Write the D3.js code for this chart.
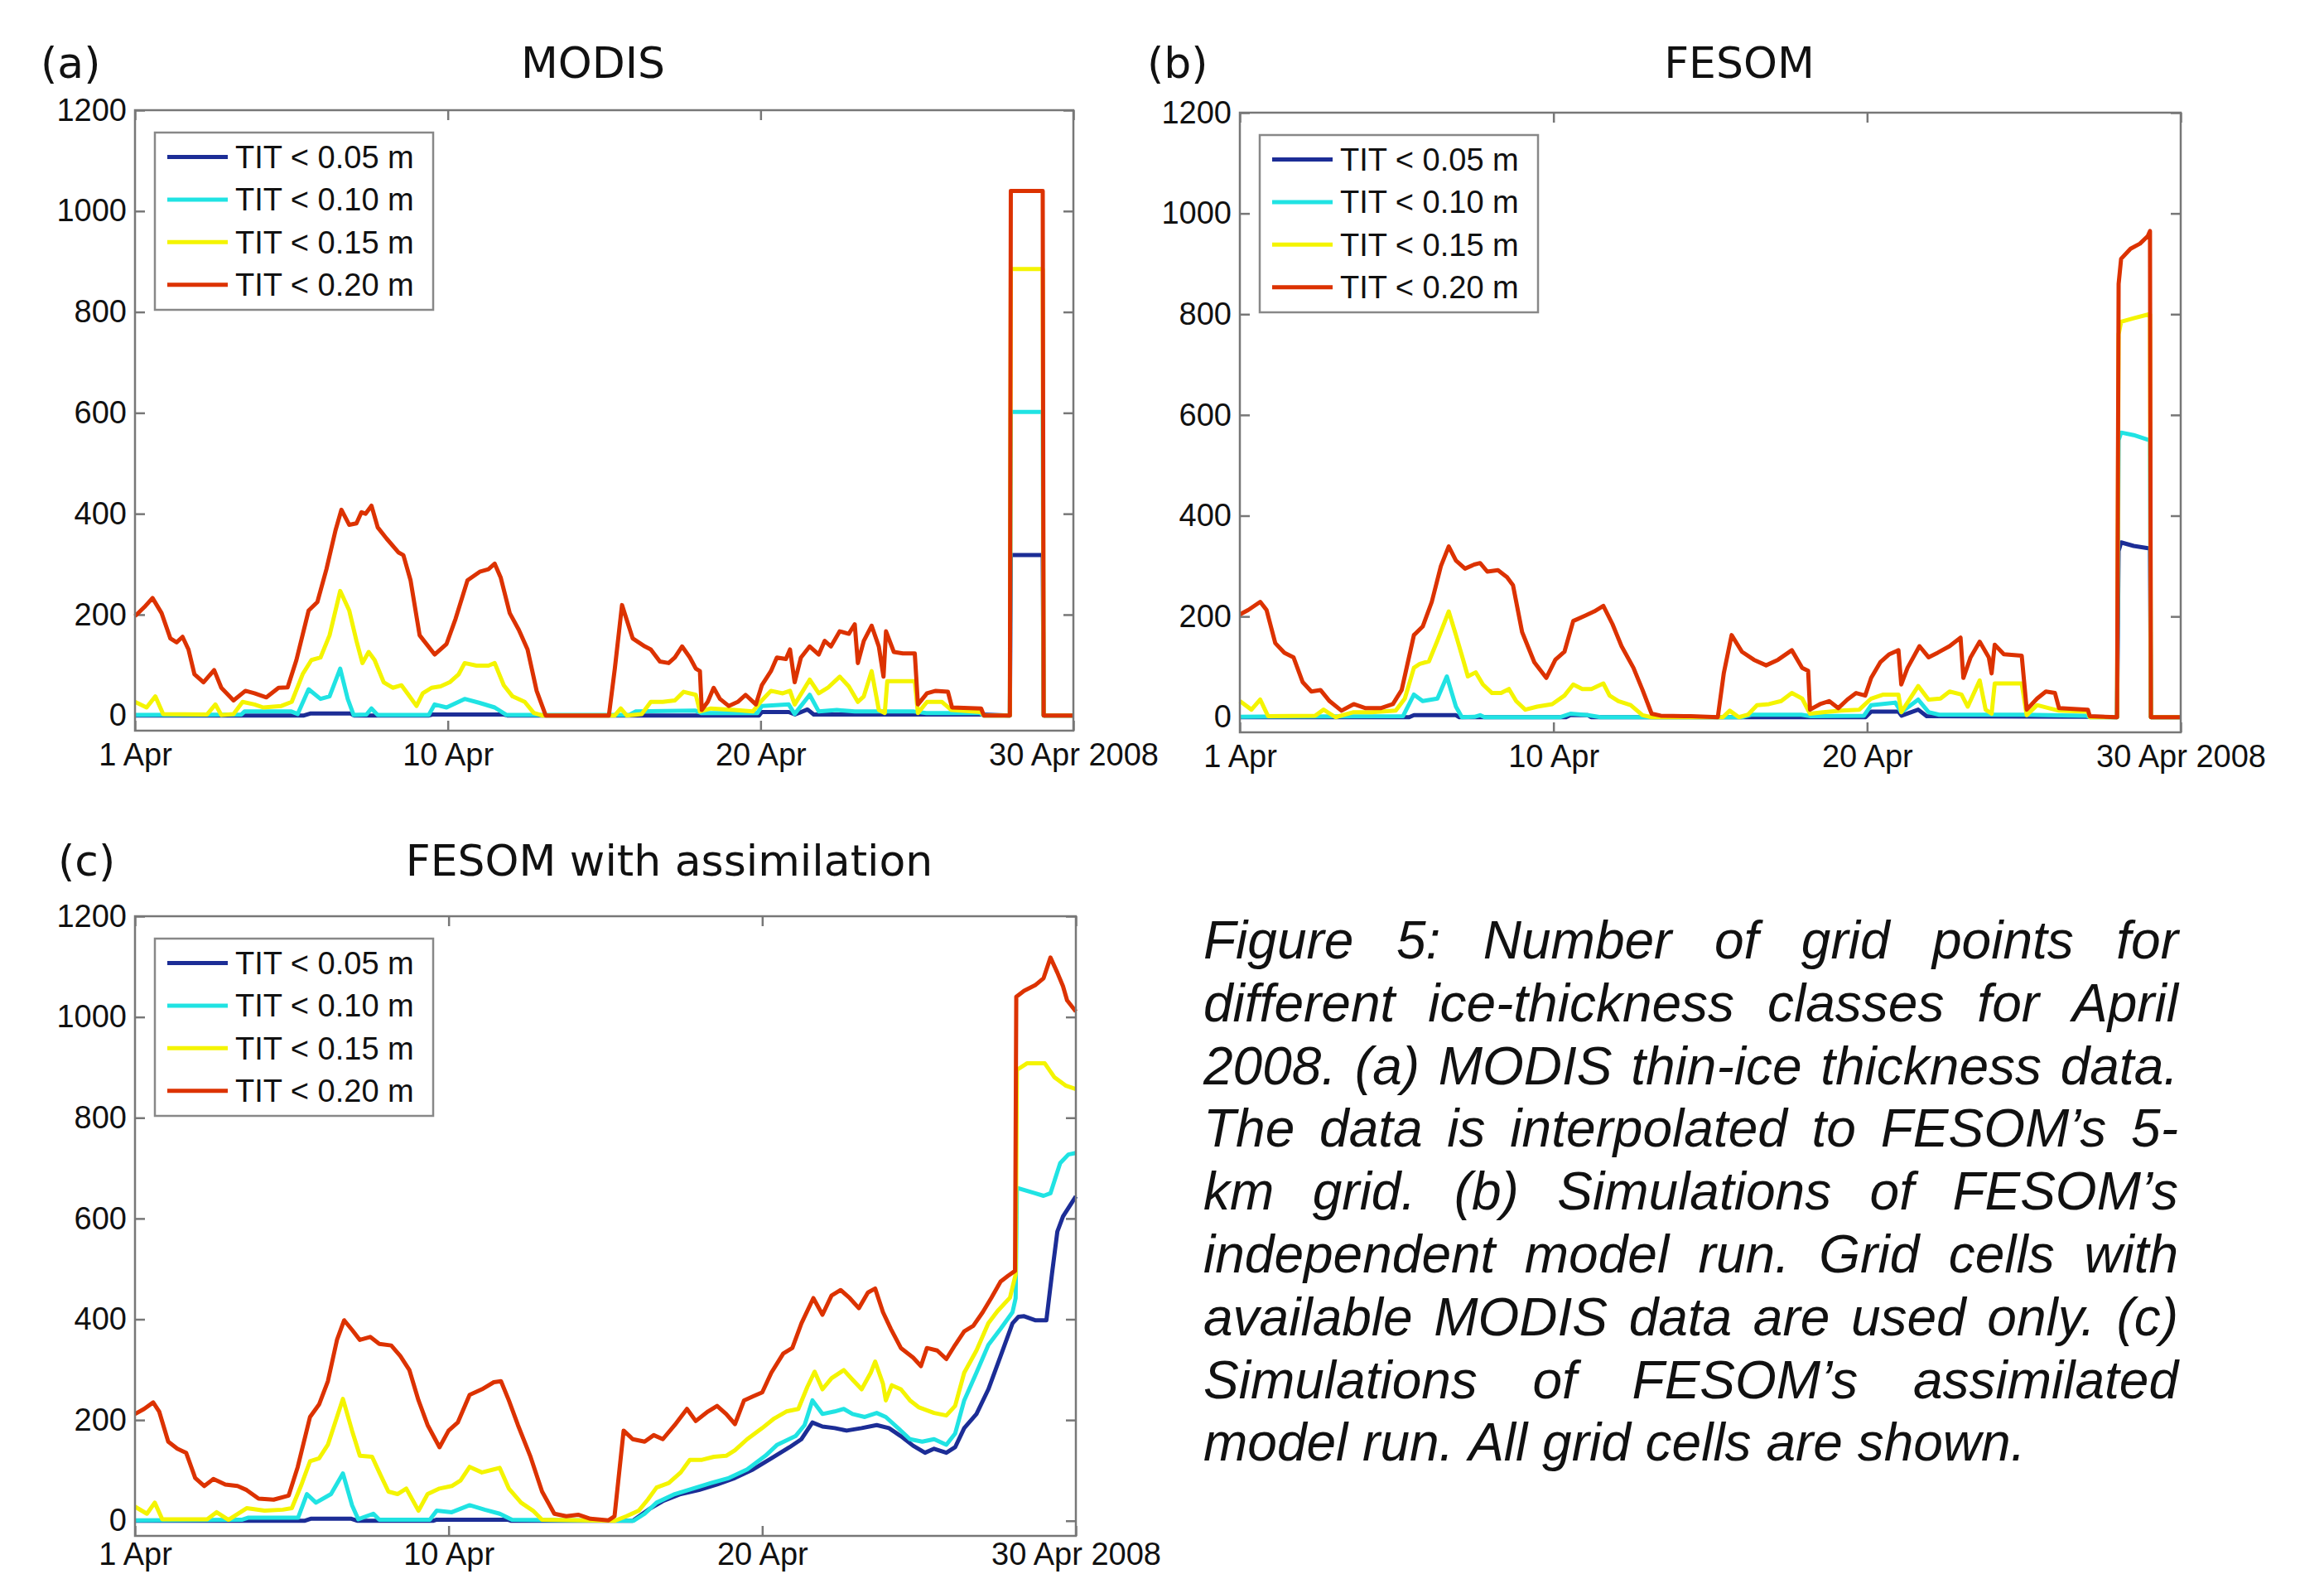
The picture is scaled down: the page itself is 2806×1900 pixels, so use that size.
<!DOCTYPE html>
<html>
<head>
<meta charset="utf-8">
<script src="https://cdn.jsdelivr.net/npm/d3@7"></script>
<style>
body { margin: 0; background: #fff; }
</style>
</head>
<body>
<div class="figure"></div>
<script>
var width = 2806
var height = 1900

var classes = ['TIT < 0.05 m', 'TIT < 0.10 m', 'TIT < 0.15 m', 'TIT < 0.20 m']
var colors = ['#1c2d96', '#20e3e3', '#f4f400', '#dc3200']
var yTicks = [0, 200, 400, 600, 800, 1000, 1200]
var xTicks = [0, 10, 20, 30]
var xTickLabels = ['1 Apr', '10 Apr', '20 Apr', '30 Apr 2008']

// (a) MODIS, [day, number of grid points]
var modis005 = [[0,0],[5.4,0],[5.6,4],[6.9,4],[7.0,0],[9.4,0],[9.5,2],[11.8,2],[11.9,0],[19.95,0],[20.04,7],[20.9,7],[21.1,2],[21.5,12],[21.7,2],[27.1,2],[27.97,0],[28.0,318],[29.02,318],[29.05,0],[30,0]]
var modis010 = [[0,1],[3.4,2],[3.5,8],[5.0,8],[5.2,3],[5.55,52],[5.93,33],[6.22,38],[6.56,93],[6.8,33],[6.99,1],[7.4,2],[7.56,14],[7.76,1],[9.39,1],[9.58,22],[9.96,16],[10.54,33],[11.02,25],[11.5,16],[11.88,1],[15.8,1],[16.0,8],[17.9,10],[18.1,5],[19.9,5],[20.04,19],[20.9,22],[21.09,3],[21.57,41],[21.86,8],[22.44,11],[23.01,8],[24.9,8],[25.3,5],[27.0,5],[27.14,0],[27.97,0],[28.0,602],[29.02,602],[29.05,0],[30,0]]
var modis015 = [[0,27],[0.37,16],[0.65,38],[0.9,3],[2.3,2],[2.57,22],[2.76,1],[3.15,3],[3.44,27],[3.82,22],[4.1,16],[4.68,19],[5.01,27],[5.36,82],[5.64,110],[5.93,115],[6.22,159],[6.56,247],[6.85,208],[7.08,148],[7.27,104],[7.47,126],[7.66,110],[7.95,66],[8.24,55],[8.52,60],[8.71,44],[9.0,19],[9.2,44],[9.48,55],[9.77,58],[10.06,66],[10.35,82],[10.54,104],[10.92,99],[11.3,99],[11.5,104],[11.79,60],[12.07,38],[12.46,27],[12.75,5],[13.03,0],[15.34,0],[15.53,14],[15.72,0],[16.2,3],[16.49,27],[16.87,27],[17.26,30],[17.54,47],[17.93,41],[18.06,8],[18.41,14],[19.17,11],[19.75,8],[20.04,30],[20.33,49],[20.71,44],[20.94,49],[21.09,22],[21.57,71],[21.86,44],[22.15,55],[22.53,77],[22.82,58],[23.11,27],[23.3,38],[23.55,88],[23.78,11],[23.97,5],[24.05,68],[24.93,68],[25.03,5],[25.32,27],[25.8,27],[26.1,11],[27.05,7],[27.14,0],[27.97,0],[28.0,885],[29.02,885],[29.05,0],[30,0]]
var modis020 = [[0,197],[0.3,215],[0.56,233],[0.85,203],[1.13,153],[1.33,145],[1.52,156],[1.71,131],[1.9,82],[2.19,66],[2.53,90],[2.76,55],[3.15,30],[3.53,49],[3.82,44],[4.2,36],[4.59,55],[4.88,56],[5.16,110],[5.55,208],[5.83,225],[6.12,290],[6.41,367],[6.6,408],[6.85,378],[7.08,381],[7.24,403],[7.37,400],[7.56,416],[7.76,373],[8.04,351],[8.43,323],[8.58,318],[8.81,268],[9.1,159],[9.58,121],[9.96,142],[10.25,192],[10.63,268],[11.02,285],[11.3,290],[11.5,301],[11.69,274],[11.98,203],[12.27,170],[12.55,131],[12.84,49],[13.13,0],[15.15,0],[15.34,93],[15.57,219],[15.91,153],[16.3,137],[16.49,131],[16.78,107],[17.06,104],[17.26,115],[17.49,137],[17.74,115],[17.93,93],[18.06,88],[18.12,11],[18.31,27],[18.5,55],[18.7,33],[18.98,19],[19.27,27],[19.52,41],[19.85,22],[20.04,60],[20.33,88],[20.52,115],[20.81,112],[20.94,131],[21.09,66],[21.29,115],[21.57,137],[21.86,121],[22.05,148],[22.25,137],[22.53,167],[22.82,162],[23.01,181],[23.11,104],[23.3,148],[23.55,178],[23.78,137],[23.93,77],[24.01,167],[24.26,126],[24.55,123],[24.93,123],[25.03,22],[25.32,44],[25.6,49],[25.99,47],[26.12,16],[27.05,14],[27.14,0],[27.97,0],[28.0,1040],[29.02,1040],[29.05,0],[30,0]]

// (b) FESOM
var fesom005 = [[0,0],[5.4,0],[5.55,4],[6.89,4],[7.0,0],[10.4,0],[10.54,4],[11.1,4],[11.2,0],[19.95,0],[20.13,11],[21.0,11],[21.1,3],[21.63,15],[21.9,2],[27.1,1],[27.97,0],[28.02,330],[28.1,347],[28.5,340],[29.0,335],[29.02,335],[29.05,0],[30,0]]
var fesom010 = [[0,1],[5.2,2],[5.55,45],[5.83,32],[6.3,37],[6.6,81],[6.89,21],[7.08,0],[7.5,1],[7.66,4],[7.8,0],[10.2,0],[10.54,7],[11.1,4],[11.5,0],[16.0,0],[16.3,5],[17.9,5],[18.2,2],[19.9,3],[20.13,24],[20.9,29],[21.09,10],[21.63,35],[21.96,10],[22.3,5],[25.0,5],[27.0,3],[27.1,0],[27.97,0],[28.02,550],[28.1,565],[28.5,560],[29.0,550],[29.02,550],[29.05,0],[30,0]]
var fesom015 = [[0,32],[0.37,15],[0.65,35],[0.9,2],[2.4,3],[2.67,15],[3.05,0],[3.63,10],[4.2,10],[4.97,13],[5.26,37],[5.55,98],[5.74,106],[6.03,111],[6.3,152],[6.66,210],[6.89,163],[7.12,114],[7.27,81],[7.52,89],[7.75,65],[8.04,48],[8.33,48],[8.58,56],[8.81,32],[9.1,15],[9.48,21],[9.96,26],[10.35,43],[10.63,65],[10.92,56],[11.21,56],[11.59,67],[11.79,43],[12.07,32],[12.46,24],[12.84,4],[13.13,0],[15.4,0],[15.62,13],[15.91,0],[16.2,5],[16.49,24],[16.87,26],[17.26,32],[17.6,48],[17.93,37],[18.18,7],[18.6,10],[19.17,13],[19.75,15],[20.13,37],[20.52,45],[21.0,45],[21.09,10],[21.63,62],[21.96,35],[22.34,37],[22.63,51],[23.01,45],[23.21,21],[23.59,73],[23.78,15],[23.97,7],[24.07,67],[24.93,67],[25.09,4],[25.42,24],[25.8,18],[26.12,13],[27.04,11],[27.1,0],[27.97,0],[28.02,760],[28.1,785],[28.5,792],[29.0,800],[29.02,800],[29.05,0],[30,0]]
var fesom020 = [[0,204],[0.27,213],[0.65,229],[0.85,213],[1.13,147],[1.42,128],[1.71,119],[2.0,70],[2.28,51],[2.57,54],[2.86,32],[3.24,13],[3.63,26],[4.01,18],[4.49,18],[4.88,26],[5.16,54],[5.55,163],[5.83,180],[6.12,229],[6.41,300],[6.66,339],[6.89,311],[7.18,295],[7.47,303],[7.66,306],[7.89,289],[8.23,292],[8.52,278],[8.71,262],[9.0,169],[9.39,109],[9.77,78],[10.06,114],[10.35,130],[10.63,191],[11.02,202],[11.3,210],[11.59,221],[11.88,185],[12.17,141],[12.55,98],[12.84,54],[13.13,7],[13.42,3],[14.38,2],[15.24,0],[15.43,87],[15.68,163],[16.01,130],[16.39,114],[16.78,103],[17.16,114],[17.6,133],[17.93,98],[18.12,92],[18.18,15],[18.5,26],[18.79,32],[19.08,18],[19.37,35],[19.65,48],[19.94,43],[20.13,78],[20.42,109],[20.71,125],[21.0,133],[21.09,65],[21.29,98],[21.67,141],[21.96,119],[22.25,128],[22.63,141],[22.98,158],[23.07,78],[23.3,119],[23.59,150],[23.88,119],[23.97,87],[24.07,144],[24.36,125],[24.93,122],[25.09,15],[25.42,37],[25.7,51],[25.99,48],[26.12,18],[27.04,15],[27.1,2],[27.97,0],[28.02,860],[28.1,910],[28.4,930],[28.7,940],[28.95,955],[29.02,965],[29.05,0],[30,0]]

// (c) FESOM with assimilation
var assim005 = [[0,0],[5.4,0],[5.6,4],[6.9,4],[7.1,0],[9.5,0],[9.6,2],[11.9,2],[12.0,0],[15.87,0],[16.44,25],[16.83,39],[17.4,53],[17.98,61],[18.56,72],[19.13,85],[19.71,102],[20.29,124],[20.87,146],[21.25,162],[21.6,195],[21.92,187],[22.31,184],[22.69,179],[23.17,184],[23.65,190],[24.04,184],[24.42,168],[24.81,149],[25.19,135],[25.48,143],[25.87,135],[26.15,146],[26.44,184],[26.83,212],[27.21,261],[27.6,327],[27.98,392],[28.17,405],[28.35,406],[28.7,398],[29.06,398],[29.24,491],[29.41,574],[29.59,604],[30,644]]
var assim010 = [[0,1],[3.4,2],[3.6,6],[5.2,6],[5.48,53],[5.77,36],[6.25,53],[6.63,94],[6.92,31],[7.12,3],[7.6,14],[7.79,2],[9.4,2],[9.62,20],[10.1,17],[10.67,31],[11.15,22],[11.63,14],[12.02,2],[15.9,0],[16.25,14],[16.63,36],[17.21,53],[17.79,64],[18.37,75],[18.94,85],[19.52,102],[20.1,129],[20.48,151],[21.06,168],[21.35,190],[21.6,239],[21.92,212],[22.31,217],[22.6,222],[22.88,212],[23.27,206],[23.65,214],[23.94,206],[24.33,184],[24.71,162],[25.1,157],[25.48,162],[25.87,151],[26.15,173],[26.44,239],[26.83,294],[27.21,349],[27.6,381],[27.98,414],[28.08,442],[28.12,661],[28.7,650],[28.97,645],[29.19,650],[29.5,710],[29.76,727],[30,730]]
var assim015 = [[0,28],[0.38,14],[0.63,36],[0.87,3],[2.3,3],[2.6,17],[2.98,2],[3.56,25],[4.13,20],[4.71,22],[5.0,25],[5.29,69],[5.58,118],[5.87,124],[6.15,151],[6.63,242],[6.92,179],[7.17,129],[7.56,127],[7.79,96],[8.08,58],[8.37,53],[8.65,64],[9.04,20],[9.33,53],[9.71,64],[10.1,69],[10.38,80],[10.67,107],[11.06,96],[11.44,102],[11.63,105],[11.92,64],[12.31,36],[12.69,20],[12.98,2],[15.3,0],[15.67,9],[16.06,20],[16.35,42],[16.63,66],[17.02,75],[17.4,96],[17.69,121],[18.08,121],[18.46,127],[18.85,129],[19.13,140],[19.52,162],[20.0,184],[20.38,203],[20.77,217],[21.15,222],[21.44,266],[21.67,296],[21.92,261],[22.21,283],[22.6,299],[22.88,280],[23.17,261],[23.46,294],[23.6,316],[23.85,272],[23.94,239],[24.13,269],[24.42,261],[24.71,239],[25.0,225],[25.48,214],[25.87,209],[26.15,228],[26.44,294],[26.83,338],[27.21,392],[27.5,416],[27.9,443],[28.08,489],[28.12,895],[28.44,908],[29.01,908],[29.32,880],[29.67,864],[30,857]]
var assim020 = [[0,212],[0.29,222],[0.58,235],[0.77,217],[1.06,157],[1.35,143],[1.63,135],[1.92,85],[2.21,69],[2.5,83],[2.88,72],[3.27,69],[3.56,61],[3.94,44],[4.42,42],[4.9,50],[5.19,107],[5.58,206],[5.87,231],[6.15,277],[6.44,359],[6.67,398],[6.92,379],[7.17,359],[7.5,365],[7.79,351],[8.17,348],[8.46,327],[8.75,299],[9.04,239],[9.33,190],[9.71,146],[10.0,179],[10.29,195],[10.67,250],[11.06,261],[11.44,275],[11.67,277],[11.92,239],[12.21,190],[12.6,129],[12.98,58],[13.37,14],[13.75,9],[14.13,12],[14.52,4],[15.1,1],[15.29,9],[15.58,179],[15.87,162],[16.25,157],[16.54,170],[16.83,162],[17.21,190],[17.6,222],[17.88,198],[18.27,217],[18.56,228],[18.85,212],[19.13,192],[19.42,239],[19.71,247],[20.0,255],[20.29,294],[20.67,332],[20.96,343],[21.25,392],[21.63,442],[21.92,409],[22.21,447],[22.5,458],[22.79,442],[23.08,422],[23.37,453],[23.6,461],[23.85,414],[24.1,381],[24.42,343],[24.81,324],[25.06,307],[25.25,343],[25.58,338],[25.87,321],[26.15,349],[26.44,376],[26.73,387],[27.03,414],[27.3,442],[27.6,475],[27.83,486],[28.06,496],[28.1,1040],[28.35,1052],[28.7,1063],[28.97,1077],[29.19,1118],[29.41,1088],[29.59,1061],[29.72,1033],[30,1011]]

var captionLines = [
    'Figure 5: Number of grid points for',
    'different ice-thickness classes for April',
    '2008. (a) MODIS thin-ice thickness data.',
    'The data is interpolated to FESOM\u2019s 5-',
    'km grid. (b) Simulations of FESOM\u2019s',
    'independent model run. Grid cells with',
    'available MODIS data are used only. (c)',
    'Simulations of FESOM\u2019s assimilated',
    'model run. All grid cells are shown.'
]

var panels = [
    { tag: '(a)', title: 'MODIS', series: [modis005, modis010, modis015, modis020],
      left: 163, right: 1296, top: 133, bottom: 882, tagX: 49, titleX: 716, textY: 94, pad: 15 },
    { tag: '(b)', title: 'FESOM', series: [fesom005, fesom010, fesom015, fesom020],
      left: 1497, right: 2633, top: 136, bottom: 884, tagX: 1385, titleX: 2100, textY: 94, pad: 15 },
    { tag: '(c)', title: 'FESOM with assimilation', series: [assim005, assim010, assim015, assim020],
      left: 163, right: 1299, top: 1106, bottom: 1854, tagX: 70, titleX: 808, textY: 1057, pad: 8 }
]

var svg = d3.select('.figure').append('svg')
    .attr('width', width)
    .attr('height', height)
    .style('display', 'block')

svg.append('rect').attr('width', width).attr('height', height).attr('fill', '#fff')

function drawPanel(p) {
    var x = d3.scaleLinear().domain([0, 30]).range([p.left, p.right])
    var y = d3.scaleLinear().domain([-30, 1200]).range([p.bottom, p.top])
    var g = svg.append('g')

    // ticks pointing inward on all four sides, labels only left and bottom
    var axes = [
        { ax: d3.axisLeft(y).tickValues(yTicks).tickFormat(d3.format('d')).tickPadding(10), tr: 'translate(' + p.left + ',0)' },
        { ax: d3.axisRight(y).tickValues(yTicks).tickFormat(''), tr: 'translate(' + p.right + ',0)' },
        { ax: d3.axisBottom(x).tickValues(xTicks).tickPadding(p.pad)
            .tickFormat(function (d, i) { return xTickLabels[i] }), tr: 'translate(0,' + p.bottom + ')' },
        { ax: d3.axisTop(x).tickValues(xTicks).tickFormat(''), tr: 'translate(0,' + p.top + ')' }
    ]
    axes.forEach(function (a) {
        var ag = g.append('g')
            .attr('transform', a.tr)
            .call(a.ax.tickSize(-12))
        ag.select('.domain').remove()
        ag.selectAll('line').attr('stroke', '#777').attr('stroke-width', 2.5)
        ag.selectAll('text')
            .attr('font-family', 'Liberation Sans, Arial, sans-serif')
            .attr('font-size', 38)
            .attr('fill', '#111')
    })

    var line = d3.line()
        .x(function (d) { return x(d[0]) })
        .y(function (d) { return y(d[1]) })

    p.series.forEach(function (s, i) {
        g.append('path')
            .datum(s)
            .attr('d', line)
            .attr('fill', 'none')
            .attr('stroke', colors[i])
            .attr('stroke-width', 5)
            .attr('stroke-linejoin', 'round')
    })

    g.append('rect')
        .attr('x', p.left).attr('y', p.top)
        .attr('width', p.right - p.left).attr('height', p.bottom - p.top)
        .attr('fill', 'none').attr('stroke', '#777').attr('stroke-width', 2.5)

    // legend
    var lx = p.left + 24, ly = p.top + 27
    var lg = g.append('g').attr('transform', 'translate(' + lx + ',' + ly + ')')
    lg.append('rect')
        .attr('width', 336).attr('height', 214)
        .attr('fill', '#fff').attr('stroke', '#888').attr('stroke-width', 2.5)
    classes.forEach(function (c, i) {
        var cy = 29.5 + i * 51.4
        lg.append('line')
            .attr('x1', 15).attr('x2', 88).attr('y1', cy).attr('y2', cy)
            .attr('stroke', colors[i]).attr('stroke-width', 5)
        lg.append('text')
            .attr('x', 97).attr('y', cy + 13.5)
            .attr('font-family', 'Liberation Sans, Arial, sans-serif')
            .attr('font-size', 38)
            .attr('fill', '#111')
            .text(c)
    })

    g.append('text')
        .attr('x', p.tagX).attr('y', p.textY)
        .attr('font-family', 'DejaVu Sans, sans-serif')
        .attr('font-size', 52)
        .attr('fill', '#111')
        .text(p.tag)
    g.append('text')
        .attr('x', p.titleX).attr('y', p.textY)
        .attr('text-anchor', 'middle')
        .attr('font-family', 'DejaVu Sans, sans-serif')
        .attr('font-size', 52)
        .attr('fill', '#111')
        .text(p.title)
}

panels.forEach(drawPanel)

// caption, justified like the source text block
var capLeft = 1453, capRight = 2630, capTop = 1157, capStep = 75.8
var cap = svg.append('g')
    .attr('font-family', 'Liberation Sans, Arial, sans-serif')
    .attr('font-style', 'italic')
    .attr('font-size', 64)
    .attr('fill', '#111')

captionLines.forEach(function (l, i) {
    var yy = capTop + i * capStep
    var words = l.split(' ')
    var nodes = words.map(function (w) {
        return cap.append('text').attr('y', yy).text(w)
    })
    var widths = nodes.map(function (n) { return n.node().getComputedTextLength() })
    var total = d3.sum(widths)
    var space = cap.append('text').text('a a')
    var sp = space.node().getComputedTextLength()
    space.remove()
    var aa = cap.append('text').text('aa')
    sp = sp - aa.node().getComputedTextLength()
    aa.remove()
    var gap = (i === captionLines.length - 1 || words.length < 2) ? sp : (capRight - capLeft - total) / (words.length - 1)
    var cx = capLeft
    nodes.forEach(function (n, k) {
        n.attr('x', cx)
        cx += widths[k] + gap
    })
})
</script>
</body>
</html>
